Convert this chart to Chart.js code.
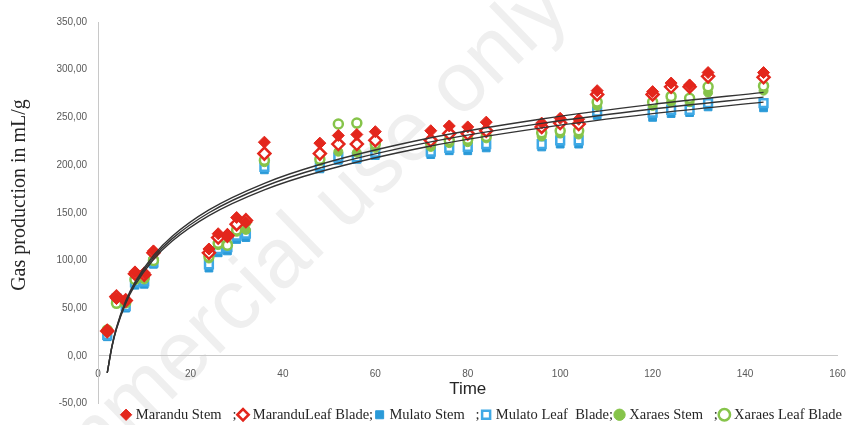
<!DOCTYPE html>
<html><head><meta charset="utf-8">
<script src="https://cdn.jsdelivr.net/npm/chart.js@4.4.0/dist/chart.umd.min.js"></script>
<style>html,body{margin:0;padding:0;background:#fff;}#wrap{width:846px;height:425px;}</style>
</head><body><div id="wrap"><canvas id="c" width="846" height="425"></canvas></div>
<script>
// ---- data ----
const times = [2,4,6,8,10,12,24,26,28,30,32,36,48,52,56,60,72,76,80,84,96,100,104,108,120,124,128,132,144];
const marStem = [27,60,58,88,87,110,112,128,127,145,140,224,223,231,232,235,236,241,240,245,244,249,248,278,277,286,284,297,297];
const marLeaf = [26,62,58,86,85,108,108,124,126,138,142,212,212,222,222,226,226,233,233,236,240,244,243,274,274,282,282,293,292];
const mulStem = [20,56,50,74,75,96,92,108,110,122,124,195,196,205,206,210,211,215,215,218,219,222,222,252,250,254,255,261,260];
const mulLeaf = [22,60,52,77,78,98,96,112,114,126,128,198,199,208,208,213,214,218,219,222,222,226,226,256,255,258,258,265,265];
const xarStem = [25,57,55,82,80,102,102,116,118,130,132,203,204,214,213,218,219,223,224,228,230,233,232,262,262,266,266,276,278];
const xarLeaf = [27,55,56,80,82,100,104,118,116,132,140,205,206,243,244,222,222,226,227,230,234,236,236,266,266,272,270,282,283];

// trend curves (read at sample times)
const curveTimes = [2,3,4,6,8,12,16,24,36,48,72,96,120,144];
const curveUpper = [-18,9.9,29.7,57.6,77.3,105.3,125.1,153.0,180.9,200.6,228.6,248.3,263.6,276.2];
const curveMid   = [-18,9.5,28.9,56.3,75.8,103.2,122.6,150.0,177.5,196.9,224.3,243.7,258.8,271.2];
const curveLower = [-18,8.9,28.0,55.0,74.0,101.0,120.1,147.0,174.0,193.0,220.0,239.0,253.9,266.0];

const seriesNames = ['Marandu Stem   ;','MaranduLeaf Blade;','Mulato Stem   ;','Mulato Leaf  Blade;','Xaraes Stem   ;','Xaraes Leaf Blade'];
const xTicks = [0,20,40,60,80,100,120,140,160];
const yTicks = [-50,0,50,100,150,200,250,300,350];

const RED = '#e3261c', BLUE = '#2a9ad8', LBLUE = '#3fa9e6', GREEN = '#86c44a';

function pts(ys){ return times.map((t,i)=>({x:t,y:ys[i]})); }
function curve(ys){ return curveTimes.map((t,i)=>({x:t,y:ys[i]})); }

const curveDs = ys => ({type:'line', data:curve(ys), showLine:true, pointRadius:0, borderColor:'#333', borderWidth:1.4, cubicInterpolationMode:'monotone', fill:false, order:0});

const titlePlugin = {
  id:'titles',
  beforeDraw(chart){
    const c=chart.ctx; c.save(); c.fillStyle='#fff'; c.fillRect(0,0,chart.width,chart.height);
    // faint watermark
    c.translate(572, 12); c.rotate(-0.77);
    c.fillStyle='#efefef'; c.font='85px "Liberation Sans", Arial, sans-serif';
    c.textAlign='right'; c.textBaseline='alphabetic';
    c.fillText('Non-commercial use only', 0, 0);
    c.restore();
  },
  afterDraw(chart){
    const c = chart.ctx, a = chart.chartArea, y0 = chart.scales.y.getPixelForValue(0);
    c.save();
    c.fillStyle = '#262626';
    c.textAlign = 'center'; c.textBaseline = 'middle';
    c.font = '17px "Liberation Sans", Arial, sans-serif';
    c.fillText('Time', (a.left + a.right)/2, y0 + 33);
    c.translate(20, 195); c.rotate(-Math.PI/2);
    c.font = '20px "Liberation Serif", "Times New Roman", serif';
    c.fillText('Gas production in mL/g', 0, 0);
    c.restore();
  }
};

new Chart(document.getElementById('c'), {
  type:'scatter',
  data:{ datasets:[
    {label:seriesNames[0], data:pts(marStem), pointStyle:'rectRot', pointRadius:6, backgroundColor:RED, borderColor:RED, borderWidth:1, order:1},
    {label:seriesNames[1], data:pts(marLeaf), pointStyle:'rectRot', pointRadius:6, backgroundColor:'#fff', borderColor:RED, borderWidth:2.5, order:2},
    {label:seriesNames[2], data:pts(mulStem), pointStyle:'rect', pointRadius:5.5, backgroundColor:BLUE, borderColor:BLUE, borderWidth:1, order:6},
    {label:seriesNames[3], data:pts(mulLeaf), pointStyle:'rect', pointRadius:5.5, backgroundColor:'#fff', borderColor:LBLUE, borderWidth:2.5, order:5},
    {label:seriesNames[4], data:pts(xarStem), pointStyle:'circle', pointRadius:4.5, backgroundColor:GREEN, borderColor:GREEN, borderWidth:1, order:4},
    {label:seriesNames[5], data:pts(xarLeaf), pointStyle:'circle', pointRadius:4.5, backgroundColor:'#fff', borderColor:GREEN, borderWidth:2.5, order:3},
    curveDs(curveUpper), curveDs(curveMid), curveDs(curveLower)
  ]},
  options:{
    responsive:false, animation:false, devicePixelRatio:1,
    layout:{padding:{left:0,right:0,top:22,bottom:-7}},
    plugins:{
      legend:{position:'bottom', align:'end',
        labels:{usePointStyle:true, boxWidth:5, boxHeight:8, padding:4, color:'#262626',
          font:{family:'"Liberation Serif", "Times New Roman", serif', size:14.5, lineHeight:1},
          filter:item=>item.datasetIndex<6,
          sort:(a,b)=>a.datasetIndex-b.datasetIndex}},
      tooltip:{enabled:false}
    },
    scales:{
      x:{type:'linear', min:0, max:160, position:{y:0},
        afterBuildTicks:s=>{ s.ticks = xTicks.map(v=>({value:v})); },
        afterFit:s=>{ s.height = 0; s.paddingRight = 0; },
        ticks:{autoSkip:false, maxRotation:0, padding:12, color:'#595959', font:{family:'"Liberation Sans", Arial, sans-serif', size:10}},
        grid:{display:false, drawTicks:false}, border:{display:true, color:'#c8c8c8', width:1}},
      y:{type:'linear', min:-50, max:350,
        afterBuildTicks:s=>{ s.ticks = yTicks.map(v=>({value:v})); },
        afterFit:s=>{ s.width = 98; },
        ticks:{padding:11, color:'#595959', font:{family:'"Liberation Sans", Arial, sans-serif', size:10},
          callback:v=>v.toFixed(2).replace('.', ',')},
        grid:{display:false, drawTicks:false}, border:{display:true, color:'#c8c8c8', width:1}}
    }
  },
  plugins:[titlePlugin]
});
</script></body></html>
